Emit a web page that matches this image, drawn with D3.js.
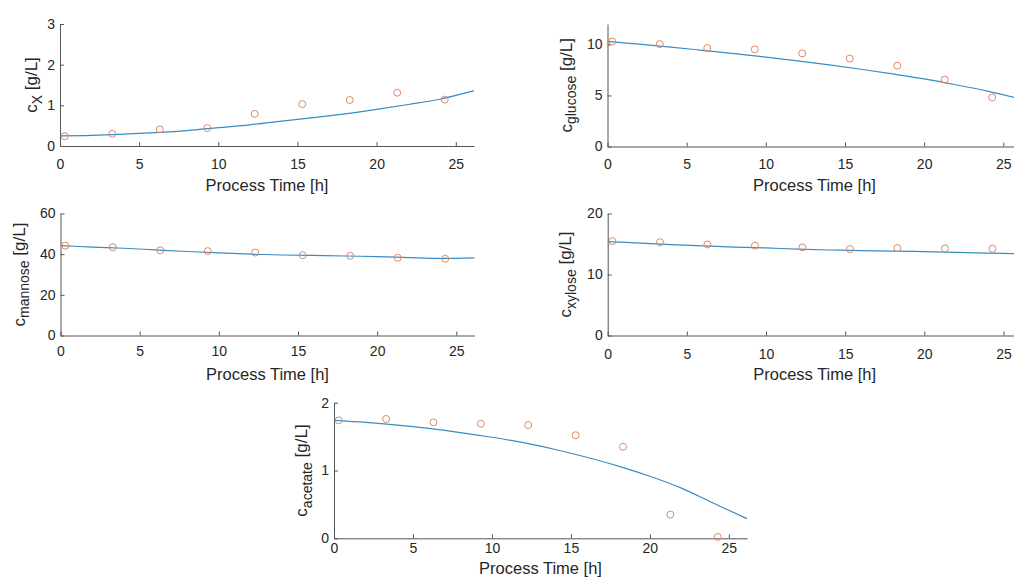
<!DOCTYPE html>
<html>
<head>
<meta charset="utf-8">
<script src="https://cdn.jsdelivr.net/npm/d3@7"></script>
<style>
  body { margin: 0; background: #fff; }
  text { font-family: "Liberation Sans", Arial, sans-serif; fill: #262626; }
</style>
</head>
<body>
<div id="chart"></div>
<script>
/***** Data *****/
var xTicks = [0, 5, 10, 15, 20, 25];
var tMeasured = [0.3, 3.3, 6.3, 9.3, 12.3, 15.3, 18.3, 21.3, 24.3];
var tModel = [0, 2, 4, 6, 8, 10, 12, 14, 16, 18, 20, 22, 24, 26.15];

var biomassMeasured = [0.24, 0.30, 0.41, 0.44, 0.79, 1.03, 1.13, 1.31, 1.14];
var biomassModel = [0.25, 0.26, 0.29, 0.33, 0.38, 0.45, 0.52, 0.61, 0.70, 0.79, 0.90, 1.02, 1.15, 1.36];

var glucoseMeasured = [10.29, 10.03, 9.64, 9.51, 9.12, 8.61, 7.92, 6.56, 4.81];
var glucoseModel = [10.3, 10.02, 9.73, 9.42, 9.10, 8.76, 8.39, 8.00, 7.57, 7.11, 6.62, 6.05, 5.42, 4.62];

var mannoseMeasured = [44.2, 43.4, 41.9, 41.5, 40.8, 39.5, 39.2, 38.2, 37.7];
var mannoseModel = [44.2, 43.5, 42.9, 42.1, 41.3, 40.6, 40.0, 39.6, 39.4, 39.1, 38.8, 38.3, 37.9, 38.2];

var xyloseMeasured = [15.47, 15.3, 14.93, 14.72, 14.45, 14.17, 14.33, 14.28, 14.23];
var xyloseModel = [15.4, 15.15, 14.9, 14.7, 14.5, 14.35, 14.15, 14.02, 13.93, 13.83, 13.75, 13.63, 13.5, 13.4];

var acetateMeasured = [1.74, 1.76, 1.71, 1.69, 1.67, 1.52, 1.35, 0.35, 0.02];
var acetateModel = [1.74, 1.71, 1.67, 1.62, 1.56, 1.49, 1.41, 1.31, 1.195, 1.065, 0.915, 0.74, 0.52, 0.29];

/***** Layout *****/
var xMax = 26.15;
var panels = [
  {sub: "X",       yMax: 3,  yTicks: [0, 1, 2, 3],     meas: biomassMeasured, model: biomassModel,
   left: 60,    top: 24,    w: 414, h: 122, tickOff: 22.5, labOff: 45, yLabOff: 23},
  {sub: "glucose", yMax: 12, yTicks: [0, 5, 10],       meas: glucoseMeasured, model: glucoseModel,
   left: 607.5, top: 24,    w: 414, h: 122.5, tickOff: 22, labOff: 44.5, yLabOff: 36},
  {sub: "mannose", yMax: 60, yTicks: [0, 20, 40, 60],  meas: mannoseMeasured, model: mannoseModel,
   left: 60.5,  top: 213.5, w: 414, h: 122, tickOff: 20, labOff: 44.5, yLabOff: 36},
  {sub: "xylose",  yMax: 20, yTicks: [0, 10, 20],      meas: xyloseMeasured,  model: xyloseModel,
   left: 607.7, top: 213.5, w: 414, h: 122, tickOff: 23, labOff: 44.5, yLabOff: 36.5},
  {sub: "acetate", yMax: 2,  yTicks: [0, 1, 2],        meas: acetateMeasured, model: acetateModel,
   left: 334,   top: 402.7, w: 413, h: 135.6, tickOff: 15, labOff: 35.5, yLabOff: 27}
];

var lineColor = "#3a8cc4";
var markColor = "#df8a62";
var axisColor = "#555555";

var svg = d3.select("#chart").append("svg")
  .attr("width", 1014)
  .attr("height", 583);

panels.forEach(function(p) {
  var g = svg.append("g").attr("transform", "translate(" + p.left + "," + p.top + ")");
  var x = d3.scaleLinear().domain([0, xMax]).range([0, p.w]);
  var y = d3.scaleLinear().domain([0, p.yMax]).range([p.h, 0]);

  // x axis, ticks pointing inwards
  var xAxis = g.append("g")
    .attr("transform", "translate(0," + p.h + ")")
    .call(d3.axisBottom(x).tickValues(xTicks).tickSizeInner(-4).tickSizeOuter(0).tickPadding(0).tickFormat(d3.format("d")));
  xAxis.select(".domain").attr("stroke", axisColor);
  xAxis.selectAll(".tick line").attr("stroke", axisColor);
  xAxis.selectAll(".tick text")
    .attr("y", p.tickOff).attr("dy", null)
    .style("font-size", "14px").style("fill", "#262626")
    .style("font-family", "'Liberation Sans', Arial, sans-serif");

  // y axis
  var yAxis = g.append("g")
    .call(d3.axisLeft(y).tickValues(p.yTicks).tickSizeInner(-4).tickSizeOuter(0).tickPadding(6).tickFormat(d3.format("d")));
  yAxis.select(".domain").attr("stroke", axisColor);
  yAxis.selectAll(".tick line").attr("stroke", axisColor);
  yAxis.selectAll(".tick text")
    .attr("x", -5)
    .style("font-size", "14px").style("fill", "#262626")
    .style("font-family", "'Liberation Sans', Arial, sans-serif");

  // model line
  var line = d3.line()
    .x(function(d, i) { return x(tModel[i]); })
    .y(function(d) { return y(d); })
    .curve(d3.curveCatmullRom.alpha(0.5));
  g.append("path")
    .datum(p.model)
    .attr("d", line)
    .attr("fill", "none")
    .attr("stroke", lineColor)
    .attr("stroke-width", 1.2);

  // measurements
  g.selectAll("circle.meas")
    .data(p.meas)
    .enter().append("circle")
    .attr("class", "meas")
    .attr("cx", function(d, i) { return x(tMeasured[i]); })
    .attr("cy", function(d) { return y(d); })
    .attr("r", 3.5)
    .attr("fill", "none")
    .attr("stroke", markColor)
    .attr("stroke-width", 1);

  // x label
  g.append("text")
    .attr("x", p.w / 2)
    .attr("y", p.h + p.labOff)
    .attr("text-anchor", "middle")
    .style("font-size", "16.5px")
    .text("Process Time [h]");

  // y label with subscript
  var yl = g.append("text")
    .attr("transform", "translate(" + (-p.yLabOff) + "," + (p.h / 2) + ") rotate(-90)")
    .attr("text-anchor", "middle")
    .style("font-size", "17px");
  yl.append("tspan").text("c");
  yl.append("tspan").attr("dy", 4.5).style("font-size", "14px").text(p.sub);
  yl.append("tspan").attr("dy", -4.5).text(" [g/L]");
});
</script>
</body>
</html>
